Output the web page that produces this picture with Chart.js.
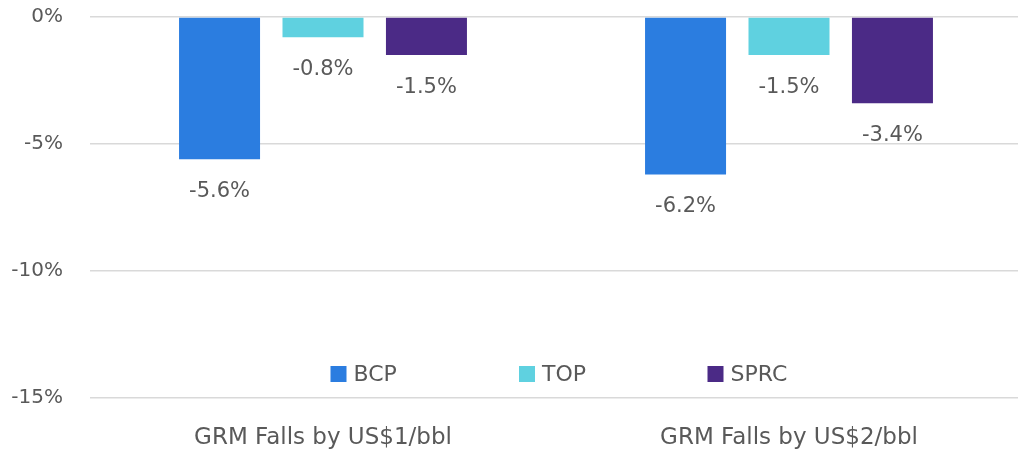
<!DOCTYPE html>
<html>
<head>
<meta charset="utf-8">
<script src="https://cdn.jsdelivr.net/npm/chart.js@4"></script>
<style>
  html, body { margin: 0; padding: 0; background: #fff; overflow: hidden; }
  #wrap { width: 1018px; height: 452px; overflow: hidden; }
</style>
</head>
<body>
<div id="wrap"><canvas id="myChart" width="1022" height="452"></canvas></div>
<script>
const categories = ['GRM Falls by US$1/bbl', 'GRM Falls by US$2/bbl'];
const bcp = [-5.6, -6.2];
const top_ = [-0.8, -1.5];
const sprc = [-1.5, -3.4];
const yTicks = [0, -5, -10, -15];

const textColor = '#595959';
const fontFamily = '"DejaVu Sans", sans-serif';

// value labels under each bar
const barLabels = {
    id: 'barLabels',
    afterDatasetsDraw(chart) {
        const c = chart.ctx;
        c.save();
        c.font = '21px ' + fontFamily;
        c.fillStyle = textColor;
        c.textAlign = 'center';
        c.textBaseline = 'middle';
        chart.data.datasets.forEach((ds, i) => {
            chart.getDatasetMeta(i).data.forEach((bar, j) => {
                c.fillText(ds.data[j].toFixed(1) + '%', bar.x, bar.y + 32);
            });
        });
        c.restore();
    }
};

// legend drawn inside the plot, above the axis
const innerLegend = {
    id: 'innerLegend',
    afterDraw(chart) {
        const c = chart.ctx;
        const area = chart.chartArea;
        c.save();
        c.font = '22px ' + fontFamily;
        c.textBaseline = 'middle';
        const box = 16, gapText = 7, stride = 188.5;
        const cx = (area.left + area.right) / 2 - 37;
        const y = area.bottom - 24;
        chart.data.datasets.forEach((ds, i) => {
            const x = cx + (i - 1) * stride;
            c.fillStyle = ds.backgroundColor;
            c.fillRect(x, y - box / 2, box, box);
            c.fillStyle = textColor;
            c.fillText(ds.label, x + box + gapText, y + 1);
        });
        c.restore();
    }
};

const ctx = document.getElementById('myChart').getContext('2d');
const myChart = new Chart(ctx, {
    type: 'bar',
    data: {
        labels: categories,
        datasets: [
            { label: 'BCP', data: bcp, backgroundColor: '#2b7de0' },
            { label: 'TOP', data: top_, backgroundColor: '#5fd1e0' },
            { label: 'SPRC', data: sprc, backgroundColor: '#4b2a86' }
        ]
    },
    options: {
        responsive: false,
        animation: false,
        devicePixelRatio: 1,
        categoryPercentage: 0.666,
        barPercentage: 0.783,
        layout: { padding: { top: 17, right: 0, left: 0, bottom: 0 } },
        plugins: {
            legend: { display: false },
            tooltip: { enabled: false }
        },
        scales: {
            x: {
                grid: { display: false, drawTicks: false },
                border: { display: false },
                ticks: { color: textColor, font: { size: 23, family: fontFamily }, padding: 26 },
                afterFit(scale) {
                    scale.height = 54;
                    scale.paddingLeft = 0;
                    scale.paddingRight = 0;
                }
            },
            y: {
                min: -15,
                max: 0,
                grid: { color: '#d9d9d9', lineWidth: 1.5, drawTicks: false },
                border: { display: false },
                afterBuildTicks(scale) { scale.ticks = yTicks.map(v => ({ value: v })); },
                ticks: {
                    color: textColor,
                    font: { size: 20, family: fontFamily },
                    padding: 27,
                    callback: v => v + '%'
                },
                afterFit(scale) {
                    scale.width = 90;
                    scale.paddingTop = 0;
                    scale.paddingBottom = 0;
                }
            }
        }
    },
    plugins: [barLabels, innerLegend]
});
</script>
</body>
</html>
